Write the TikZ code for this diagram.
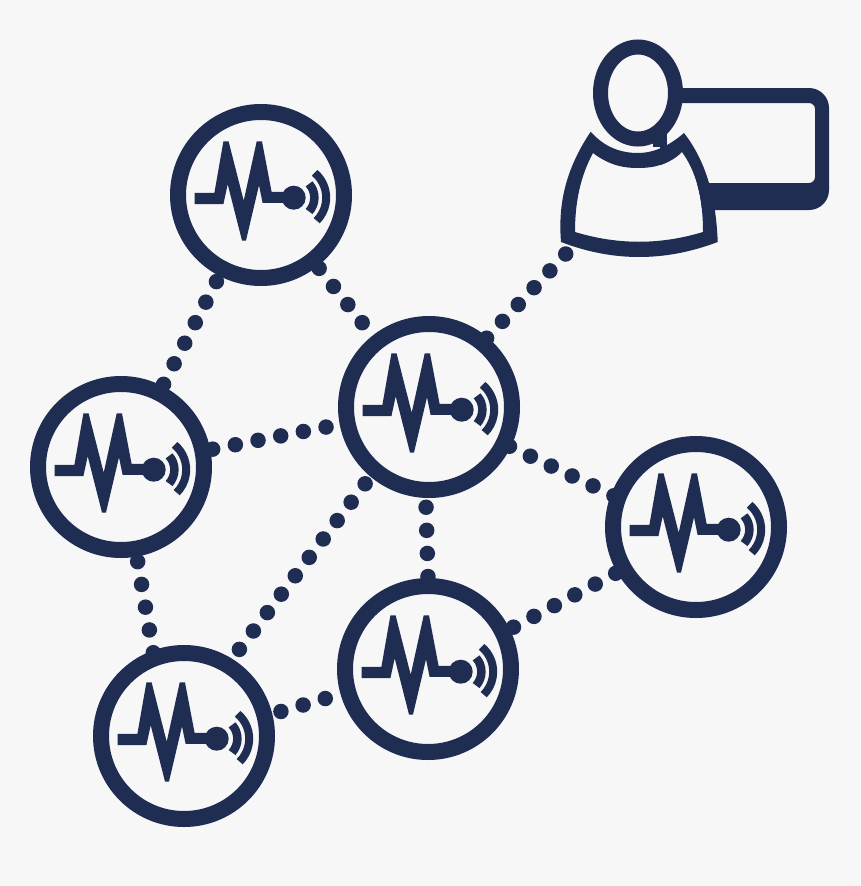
\documentclass[tikz,border=0pt]{standalone}
\usepackage{tikz}
\usetikzlibrary{shapes.geometric}
\definecolor{navy}{HTML}{1F2D52}
\definecolor{paper}{HTML}{F7F7F7}
\tikzset{link/.style={draw=navy,line width=15.5pt,line cap=round,dash pattern=on 0pt off 23.1pt,shorten >=-4pt,shorten <=#1}}
\tikzset{pics/pulse/.style={code={
  \fill[navy] (-66.3,-2.2) -- (-46.6,-2.2) -- (-37.6,-53.6) -- (-32.4,-53.6) -- (-17.3,5.7)
    -- (-4.3,-53.6) -- (1,-53.6) -- (10.6,-3.2) -- (23.7,-3.2) -- (23.7,7.8) -- (1.6,7.8)
    -- (-2,-9.7) -- (-15,45.5) -- (-19,45.5) -- (-33.3,-10.7) -- (-37.6,9.2) -- (-66.3,9.2) -- cycle;
  \fill[navy] (32.7,2.7) circle (12);
  \draw[navy,line width=8.5pt] (32.7,2.7) ++(-42:20.7) arc (-42:42:20.7);
  \draw[navy,line width=8pt] (32.7,2.7) ++(-50:32.5) arc (-50:45:32.5);
}}}

\begin{document}
\begin{tikzpicture}[x=1pt,y=-1pt,semithick]
  \tikzstyle{sensor}=[circle,draw=navy,fill=paper,line width=16pt,inner sep=0pt,minimum size=166pt]

  \fill[paper] (0,0) rectangle (860,886);
  \useasboundingbox (0,0) rectangle (860,886);

  % screen behind the user
  \fill[navy,even odd rule] (665,88) -- (809,88) arc (-90:0:20) -- (829,190) arc (0:90:20) -- (665,210) -- cycle
    (660,103) -- (809,103) arc (-90:0:6) -- (815,177) arc (0:90:6) -- (660,183) -- cycle;

  % user
  \fill[paper] (575,232) .. controls (575,203) and (580,177) .. (593,153)
    .. controls (610,166) and (625,168) .. (638,168) .. controls (655,168) and (670,164) .. (682,152)
    .. controls (695,170) and (703,195) .. (703,232) .. controls (660,245) and (618,245) .. (575,232) -- cycle;
  \fill[navy,even odd rule] (561,242) .. controls (558,205) and (565,170) .. (590.7,131.7)
    .. controls (605,148) and (622,153) .. (638,153) .. controls (655,153) and (670,145) .. (684,133)
    .. controls (705,160) and (716,195) .. (717.7,242) .. controls (665,262) and (613,262) .. (561,242) -- cycle
    (575,232) .. controls (575,203) and (580,177) .. (593,153)
    .. controls (610,166) and (625,168) .. (638,168) .. controls (655,168) and (670,164) .. (682,152)
    .. controls (695,170) and (703,195) .. (703,232) .. controls (660,245) and (618,245) .. (575,232) -- cycle;
  \fill[navy] (653,130) rectangle (667,147);
  \node[ellipse,draw=navy,fill=paper,line width=15pt,inner sep=0pt,minimum width=75pt,minimum height=92pt] (head) at (638,93) {};
  \coordinate (foot) at (565.7,254);

  \node[sensor] (top)     at (261,195) {};
  \node[sensor] (center)  at (429,407) {};
  \node[sensor] (left)    at (121,467) {};
  \node[sensor] (right)   at (696,527) {};
  \node[sensor] (bottom)  at (428,669) {};
  \node[sensor] (corner)  at (184,736) {};

  \foreach \n in {top,center,left,right,bottom,corner}
    \pic at (\n) {pulse};

  \path (foot) edge[link=0pt] (center.50)
  (top) edge[link=6.4pt] (left)
  (top) edge[link=2.6pt] (center)
  (left) edge[link=2.4pt] (center)
  (left.280) edge[link=5.1pt] (corner.110)
  (center.230) edge[link=8.9pt] (corner.58)
  (center.268) edge[link=9.3pt] (bottom.90)
  (center.334) edge[link=-1.4pt] (right.159)
  (bottom.26) edge[link=4.2pt] (right.210)
  (corner.14) edge[link=9pt] (bottom.196);

\end{tikzpicture}
\end{document}
